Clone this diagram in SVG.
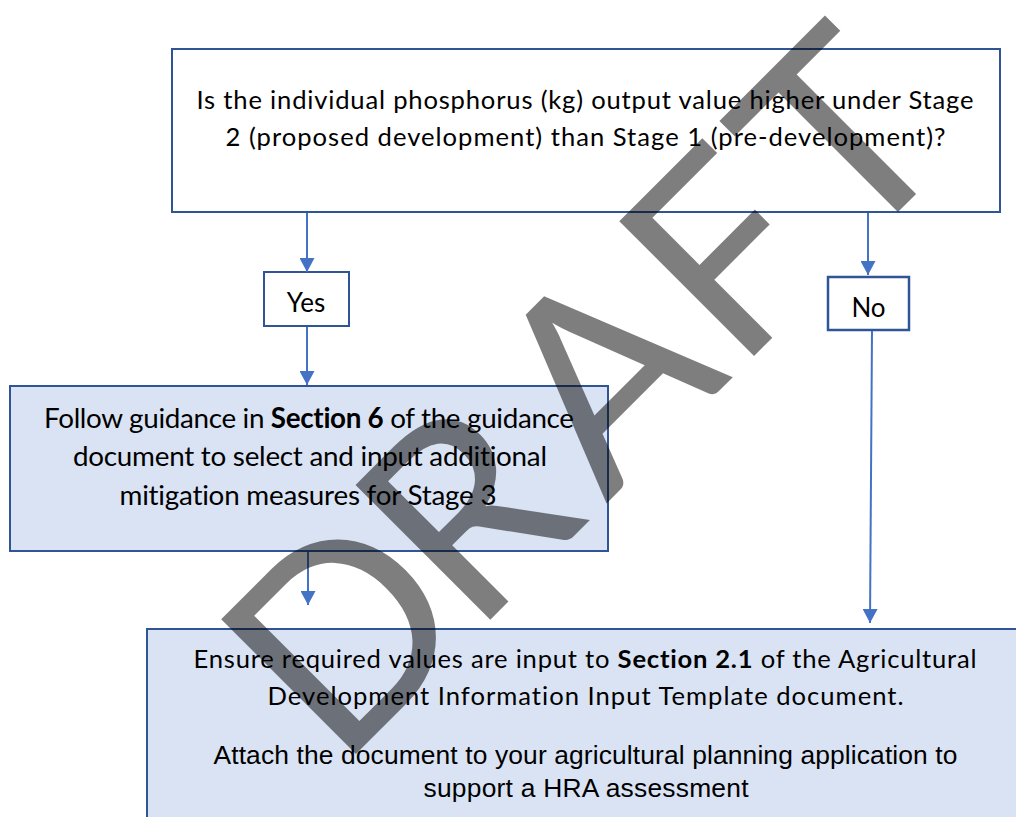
<svg xmlns="http://www.w3.org/2000/svg" width="1016" height="817" viewBox="0 0 1016 817">
<style>
text{font-variant-ligatures:none;font-feature-settings:"liga" 0,"clig" 0}
.box{fill:#ffffff;stroke:#2f5597;stroke-width:2}
.fill{fill:#dae3f3;stroke:#2f5597;stroke-width:2}
.t{font-family:Lato,"Liberation Sans",sans-serif;fill:#000;text-anchor:middle}
.a{font-family:"Liberation Sans",Arial,sans-serif;fill:#000;text-anchor:middle}
.b{font-weight:bold}
.c{stroke:#4472c4;stroke-width:2;fill:none;marker-end:url(#ah)}
</style>
<defs>
<marker id="ah" markerUnits="userSpaceOnUse" markerWidth="14" markerHeight="15" refX="14" refY="7.5" orient="auto">
<path d="M0,0 L14,7.5 L0,15 z" fill="#4472c4"/>
</marker>
</defs>
<rect width="1016" height="817" fill="#ffffff"/>
<g id="question">
<rect class="box" x="172" y="49" width="828" height="163"/>
<text class="t" x="585" y="109" font-size="25.6" textLength="777">Is the individual phosphorus (kg) output value higher under Stage</text>
<text class="t" x="585.5" y="146" font-size="25.6" textLength="720">2 (proposed development) than Stage 1 (pre-development)?</text>
</g>
<g id="yes">
<rect class="box" x="264" y="272" width="85" height="54"/>
<text class="t" x="306" y="312" font-size="26">Yes</text>
</g>
<g id="no">
<rect class="box" x="828" y="277" width="81" height="53" style="stroke-width:2.5"/>
<text class="t" x="868.5" y="316.5" font-size="26">No</text>
</g>
<g id="mitigation">
<rect class="fill" x="10" y="386" width="598" height="165"/>
<text class="t" x="309" y="427.5" font-size="27.8" textLength="530">Follow guidance in <tspan class="b">Section 6</tspan> of the guidance</text>
<text class="t" x="310" y="466" font-size="27.8" textLength="474">document to select and input additional</text>
<text class="t" x="308" y="504.5" font-size="27.8" textLength="377">mitigation measures for Stage 3</text>
</g>
<g id="submit">
<rect class="fill" x="147" y="629" width="880" height="200"/>
<text class="t" x="585" y="668" font-size="25.6" textLength="783">Ensure required values are input to <tspan class="b">Section 2.1</tspan> of the Agricultural</text>
<text class="t" x="585.5" y="705" font-size="25.6" textLength="636">Development Information Input Template document.</text>
<text class="a" x="585.5" y="764" font-size="26.4" textLength="744">Attach the document to your agricultural planning application to</text>
<text class="a" x="586" y="797" font-size="26.4" textLength="325">support a HRA assessment</text>
</g>
<g id="connectors">
<line class="c" x1="307" y1="213" x2="307" y2="272"/>
<line class="c" x1="307" y1="327" x2="307" y2="385"/>
<line class="c" x1="868" y1="213" x2="868" y2="275"/>
<line class="c" x1="872" y1="331" x2="870" y2="623"/>
<line class="c" x1="308" y1="552" x2="308" y2="605"/>
</g>
<g id="watermark" opacity="0.5" transform="translate(355,755) rotate(-45)">
<text x="-23 167 355 540 702" y="0" font-family="Lato,'Liberation Sans',sans-serif" font-size="266" fill="#000">DRAFT</text>
</g>
</svg>
